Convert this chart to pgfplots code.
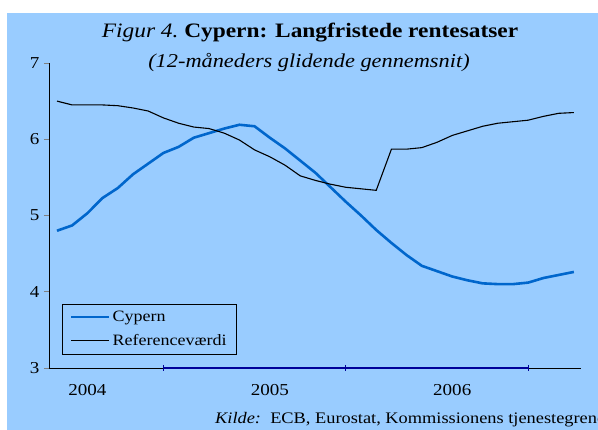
\documentclass[border=0pt]{standalone}
\usepackage{fontspec}
\setmainfont{Liberation Serif}[FakeStretch=1.14]
\usepackage{pgfplots}
\pgfplotsset{compat=1.18}
\definecolor{bg}{RGB}{153,204,255}
\definecolor{cyp}{RGB}{0,102,204}
\definecolor{navyb}{RGB}{0,0,153}

\pgfplotstableread{
k cyp ref
0 4.80 6.50
1 4.87 6.45
2 5.03 6.45
3 5.23 6.45
4 5.36 6.44
5 5.54 6.41
6 5.68 6.37
7 5.82 6.28
8 5.90 6.21
9 6.02 6.16
10 6.08 6.14
11 6.14 6.08
12 6.19 5.99
13 6.17 5.86
14 6.02 5.77
15 5.88 5.66
16 5.72 5.52
17 5.56 5.46
18 5.37 5.41
19 5.18 5.37
20 5.00 5.35
21 4.81 5.33
22 4.64 5.87
23 4.48 5.87
24 4.34 5.89
25 4.27 5.96
26 4.20 6.05
27 4.15 6.11
28 4.11 6.17
29 4.10 6.21
30 4.10 6.23
31 4.12 6.25
32 4.18 6.30
33 4.22 6.34
34 4.26 6.35
}\datatab

\begin{document}
\begin{tikzpicture}[x=1pt,y=1pt]
\useasboundingbox (-49,-62) rectangle (549,368);
\fill[white] (-49,-62) rectangle (549,368);
\fill[bg] (-42,-62) rectangle (549,355);
\begin{axis}[
  at={(0,0)}, anchor=south west,
  scale only axis, width=532pt, height=305pt,
  xmin=-0.526, xmax=34.47, ymin=3, ymax=7,
  axis lines*=left,
  axis line style={line width=0.8pt},
  ytick={3,4,5,6,7},
  xtick={2,14,26}, xticklabels={2004,2005,2006},
  tick align=outside,
  major tick length=5pt,
  y tick style={line width=0.8pt},
  x tick style={draw=none},
  xticklabel style={yshift=-8pt},
  yticklabel style={xshift=-1pt},
  tick label style={font=\fontsize{16.7}{18}\selectfont},
  /pgf/number format/assume math mode=true,
  clip=false,
  legend style={at={(0.024,0.046)}, anchor=south west, draw=black, fill=bg,
    font=\fontsize{15.8}{17}\selectfont, cells={anchor=west}, row sep=7pt,
    inner xsep=8pt, inner ysep=5pt},
  legend image code/.code={\draw[#1] (0pt,0pt) -- (38pt,0pt);},
]
\addplot[cyp, line width=2.6pt] table[x=k, y=cyp] {\datatab};
\addlegendentry{Cypern}
\addplot[black, line width=1.1pt] table[x=k, y=ref] {\datatab};
\addlegendentry{Referenceværdi}
\addplot[navyb, line width=1.6pt, mark=|, mark size=3pt, mark options={solid, line width=1.2pt}, forget plot] coordinates {(7,3) (19,3) (31,3)};
\end{axis}
\node[font=\fontsize{20.5}{22}\selectfont] at (261,335) {\textit{Figur 4.}\ \textbf{Cypern: Langfristede rentesatser}};
\node[font=\fontsize{19.6}{21}\selectfont\itshape] at (260,305) {(12-måneders glidende gennemsnit)};
\node[anchor=west, font=\fontsize{16.1}{18}\selectfont, inner sep=0pt] at (166,-52) {\textit{Kilde:}\ \ ECB, Eurostat, Kommissionens tjenestegrene};
\end{tikzpicture}
\end{document}
